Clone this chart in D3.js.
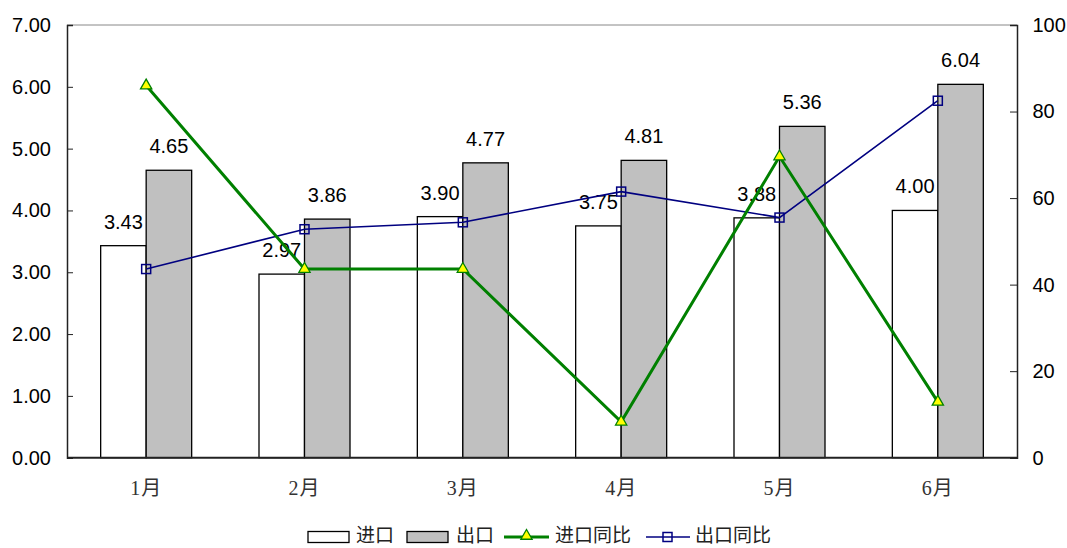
<!DOCTYPE html>
<html><head><meta charset="utf-8">
<script src="https://cdn.jsdelivr.net/npm/d3@7"></script>
<style>body{margin:0;background:#fff}</style>
</head><body>
<svg id="c" width="1067" height="548"></svg>
<script>
const categories = ["1月","2月","3月","4月","5月","6月"];
const importVals = [3.43,2.97,3.90,3.75,3.88,4.00];
const exportVals = [4.65,3.86,4.77,4.81,5.36,6.04];
const importYoY = [86,43.6,43.6,8.3,69.6,12.9];
const exportYoY = [43.6,52.8,54.4,61.5,55.5,82.5];
const leftTicks = [0,1,2,3,4,5,6,7];
const rightTicks = [0,20,40,60,80,100];
const legendNames = ["进口","出口","进口同比","出口同比"];

const svg = d3.select("#c");
const L = 67, R = 1017, T = 25, B = 457.7;
const x = d3.scaleBand().domain(categories).range([L,R]);
const yL = d3.scaleLinear().domain([0,7]).range([B,T]);
const yR = d3.scaleLinear().domain([0,100]).range([B,T]);
const bw = 45.5;
const numFont = "'Liberation Sans', Arial, sans-serif";
const cjkFont = "'Liberation Serif', 'Noto Sans CJK SC', serif";

// top border
svg.append("line").attr("x1",L).attr("x2",R).attr("y1",T).attr("y2",T).attr("stroke","#888").attr("stroke-width",1);

// left axis
const ga = svg.append("g").attr("transform",`translate(${L},0)`)
  .call(d3.axisLeft(yL).tickValues(leftTicks).tickSize(-6).tickPadding(16).tickFormat(d3.format(".2f")));
ga.select(".domain").attr("stroke","#222").attr("stroke-width",1.5);
ga.selectAll(".tick line").attr("stroke","#222");
ga.selectAll("text").attr("font-family",numFont).attr("font-size",20).attr("fill","#000");

const gr = svg.append("g").attr("transform",`translate(${R},0)`)
  .call(d3.axisRight(yR).tickValues(rightTicks).tickSize(-7).tickPadding(15.5));
gr.select(".domain").attr("stroke","#222").attr("stroke-width",1.5);
gr.selectAll(".tick line").attr("stroke","#222");
gr.selectAll("text").attr("font-family",numFont).attr("font-size",20).attr("fill","#000");

// bars
const cx = c => x(c) + x.bandwidth()/2;
svg.selectAll(".bi").data(categories).join("rect")
  .attr("x",c=>cx(c)-bw).attr("width",bw)
  .attr("y",(c,i)=>yL(importVals[i])).attr("height",(c,i)=>B-yL(importVals[i]))
  .attr("fill","#fff").attr("stroke","#000").attr("stroke-width",1.3);
svg.selectAll(".be").data(categories).join("rect")
  .attr("x",c=>cx(c)).attr("width",bw)
  .attr("y",(c,i)=>yL(exportVals[i])).attr("height",(c,i)=>B-yL(exportVals[i]))
  .attr("fill","#c0c0c0").attr("stroke","#000").attr("stroke-width",1.3);

// bottom axis
svg.append("line").attr("x1",L).attr("x2",R).attr("y1",B).attr("y2",B).attr("stroke","#222").attr("stroke-width",2);
svg.selectAll(".cl").data(categories).join("text")
  .attr("x",cx).attr("y",495).attr("text-anchor","middle")
  .attr("font-family",cjkFont).attr("font-size",20).attr("letter-spacing",1).attr("fill","#333").text(d=>d);

// labels
svg.selectAll(".li").data(categories).join("text")
  .attr("x",c=>cx(c)-bw/2).attr("y",(c,i)=>yL(importVals[i])-17)
  .attr("text-anchor","middle").attr("font-family",numFont).attr("font-size",20)
  .text((c,i)=>importVals[i].toFixed(2));
svg.selectAll(".le").data(categories).join("text")
  .attr("x",c=>cx(c)+bw/2).attr("y",(c,i)=>yL(exportVals[i])-17)
  .attr("text-anchor","middle").attr("font-family",numFont).attr("font-size",20)
  .text((c,i)=>exportVals[i].toFixed(2));

// lines
const lineG = d3.line().x(d=>d[0]).y(d=>d[1]);
const ptsI = categories.map((c,i)=>[cx(c), yR(importYoY[i])]);
const ptsE = categories.map((c,i)=>[cx(c), yR(exportYoY[i])]);
svg.append("path").attr("d",lineG(ptsE)).attr("fill","none").attr("stroke","#000080").attr("stroke-width",1.6);
svg.selectAll(".me").data(ptsE).join("rect")
  .attr("x",d=>d[0]-4.5).attr("y",d=>d[1]-4.5).attr("width",9).attr("height",9)
  .attr("fill","none").attr("stroke","#000080").attr("stroke-width",1.5);
svg.append("path").attr("d",lineG(ptsI)).attr("fill","none").attr("stroke","#008000").attr("stroke-width",3);
const tri = d3.symbol().type(d3.symbolTriangle).size(55);
svg.selectAll(".mi").data(ptsI).join("path")
  .attr("d",tri).attr("transform",d=>`translate(${d[0]},${d[1]})`)
  .attr("fill","#ffff00").attr("stroke","#008000").attr("stroke-width",1.3);

// legend
const lg = svg.append("g");
const ly = 537;
const lfont = "'Noto Sans CJK SC', sans-serif";
const lfs = 19;
const ty = 542;
lg.append("rect").attr("x",308).attr("y",ly-5.5).attr("width",41).attr("height",11).attr("fill","#fff").attr("stroke","#000").attr("stroke-width",1.3);
lg.append("text").attr("x",356).attr("y",ty).attr("font-family",lfont).attr("font-size",lfs).attr("fill","#222").text(legendNames[0]);
lg.append("rect").attr("x",407).attr("y",ly-5.5).attr("width",41).attr("height",11).attr("fill","#c0c0c0").attr("stroke","#000").attr("stroke-width",1.3);
lg.append("text").attr("x",456).attr("y",ty).attr("font-family",lfont).attr("font-size",lfs).attr("fill","#222").text(legendNames[1]);
lg.append("line").attr("x1",504).attr("x2",549).attr("y1",ly).attr("y2",ly).attr("stroke","#008000").attr("stroke-width",3);
lg.append("path").attr("d",tri).attr("transform",`translate(526.5,${ly-1})`).attr("fill","#ffff00").attr("stroke","#008000").attr("stroke-width",1.3);
lg.append("text").attr("x",555).attr("y",ty).attr("font-family",lfont).attr("font-size",lfs).attr("fill","#222").text(legendNames[2]);
lg.append("line").attr("x1",646).attr("x2",690).attr("y1",ly).attr("y2",ly).attr("stroke","#000080").attr("stroke-width",1.6);
lg.append("rect").attr("x",663).attr("y",ly-4.5).attr("width",9).attr("height",9).attr("fill","none").attr("stroke","#000080").attr("stroke-width",1.5);
lg.append("text").attr("x",695).attr("y",ty).attr("font-family",lfont).attr("font-size",lfs).attr("fill","#222").text(legendNames[3]);
</script>
</body></html>
